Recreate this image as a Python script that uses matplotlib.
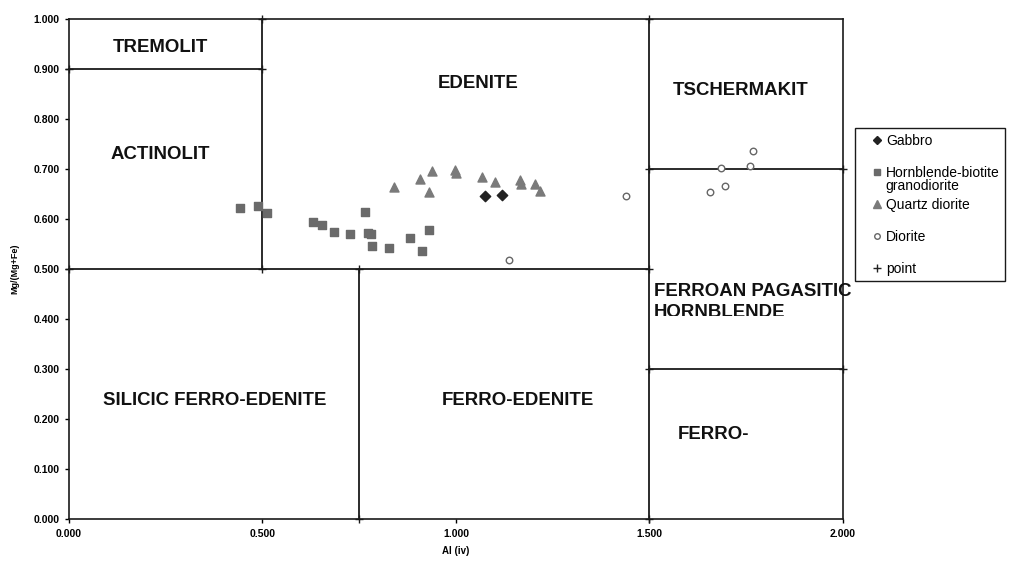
import numpy as np
import matplotlib.pyplot as plt
from matplotlib.lines import Line2D
from matplotlib.transforms import Bbox, TransformedBbox
from matplotlib.ticker import FormatStrFormatter

plt.rcParams['font.family'] = ['Liberation Sans', 'DejaVu Sans']

# sample data: Al(iv) vs Mg/(Mg+Fe)
gabbro_x = [1.076, 1.120]
gabbro_y = [0.645, 0.647]

hbl_x = [0.442, 0.488, 0.511, 0.630, 0.654, 0.686, 0.725, 0.766, 0.772, 0.780,
         0.782, 0.827, 0.881, 0.913, 0.931]
hbl_y = [0.622, 0.625, 0.611, 0.594, 0.587, 0.573, 0.569, 0.614, 0.572, 0.569,
         0.545, 0.542, 0.562, 0.535, 0.577]

qtz_x = [0.840, 0.907, 0.937, 0.930, 0.998, 1.000, 1.066, 1.102, 1.165, 1.168,
         1.205, 1.218]
qtz_y = [0.663, 0.679, 0.695, 0.653, 0.698, 0.691, 0.683, 0.673, 0.678, 0.669,
         0.669, 0.655]

dio_x = [1.137, 1.439, 1.768, 1.686, 1.761, 1.696, 1.657]
dio_y = [0.517, 0.645, 0.735, 0.701, 0.706, 0.666, 0.654]

# classification boundaries (x pairs, y pairs)
bounds = [
    ([0.0, 0.5], [0.9, 0.9]),
    ([0.5, 0.5], [0.5, 1.0]),
    ([0.0, 1.5], [0.5, 0.5]),
    ([0.75, 0.75], [0.0, 0.5]),
    ([1.5, 1.5], [0.0, 1.0]),
    ([1.5, 2.0], [0.7, 0.7]),
    ([1.5, 2.0], [0.3, 0.3]),
]

fields = [
    ('TREMOLIT', 0.235, 0.943),
    ('ACTINOLIT', 0.235, 0.728),
    ('EDENITE', 1.057, 0.870),
    ('TSCHERMAKIT', 1.735, 0.856),
    ('SILICIC FERRO-EDENITE', 0.377, 0.236),
    ('FERRO-EDENITE', 1.160, 0.236),
]

fig = plt.figure(figsize=(10.09, 5.74), dpi=100)
ax = fig.add_axes([0.0684, 0.0958, 0.767, 0.8712])

for bx, by in bounds:
    ax.plot(bx, by, color='#1a1a1a', lw=1.3, marker='+', ms=6, mew=1.0,
            clip_on=False, zorder=2)

ax.scatter(gabbro_x, gabbro_y, marker='D', s=28, color='#222222', zorder=3)
ax.scatter(hbl_x, hbl_y, marker='s', s=34, color='#6a6a6a', zorder=3)
ax.scatter(qtz_x, qtz_y, marker='^', s=42, color='#7a7a7a', zorder=3)
ax.scatter(dio_x, dio_y, marker='o', s=22, facecolor='white',
           edgecolor='#666666', lw=1.0, zorder=3)

for name, fx, fy in fields:
    ax.text(fx, fy, name, ha='center', va='center', fontsize=13.4,
            fontweight='bold', color='#111111')

ax.text(1.512, 0.454, 'FERROAN PAGASITIC', ha='left', va='center',
        fontsize=13.4, fontweight='bold', color='#111111')
hb = ax.text(1.512, 0.413, 'HORNBLENDE', ha='left', va='center',
             fontsize=13.4, fontweight='bold', color='#111111')
hb.set_clip_box(TransformedBbox(Bbox([[1.5, 0.406], [2.2, 0.6]]), ax.transData))
hb.set_clip_on(True)
ax.text(1.572, 0.168, 'FERRO-', ha='left', va='center', fontsize=13.4,
        fontweight='bold', color='#111111')

ax.set_xlim(0, 2.0)
ax.set_ylim(0, 1.0)
ax.set_xticks([0, 0.5, 1.0, 1.5, 2.0])
ax.set_yticks(np.arange(0, 1.01, 0.1))
ax.xaxis.set_major_formatter(FormatStrFormatter('%.3f'))
ax.yaxis.set_major_formatter(FormatStrFormatter('%.3f'))
ax.tick_params(direction='out', length=3, width=1, labelsize=7.5, pad=4)
for lab in ax.get_xticklabels() + ax.get_yticklabels():
    lab.set_fontweight('bold')
for sp in ax.spines.values():
    sp.set_linewidth(1.2)
    sp.set_color('#1a1a1a')

ax.set_xlabel('Al (iv)', fontsize=7, fontweight='bold', labelpad=5)
ax.set_ylabel('Mg/(Mg+Fe)', fontsize=6.5, fontweight='bold', labelpad=10)

handles = [
    Line2D([], [], ls='none', marker='D', ms=4, color='#222222'),
    Line2D([], [], ls='none', marker='s', ms=5, color='#6a6a6a'),
    Line2D([], [], ls='none', marker='^', ms=5.5, color='#7a7a7a'),
    Line2D([], [], ls='none', marker='o', ms=4, mfc='white', mec='#666666'),
    Line2D([], [], ls='none', marker='+', ms=6, color='#222222'),
]
labels = ['Gabbro', 'Hornblende-biotite', 'Quartz diorite', 'Diorite', 'point']
leg = fig.legend(handles, labels, loc='upper left',
                 bbox_to_anchor=(0.847, 0.777), fontsize=10,
                 frameon=True, fancybox=False, edgecolor='#1a1a1a',
                 framealpha=1, borderaxespad=0, labelspacing=1.3,
                 handlelength=2.4, handletextpad=-0.55, borderpad=0.4)
leg.get_frame().set_linewidth(1.0)

# second line of the hornblende entry sits under its first line, as in Excel
fig.canvas.draw()
tb = leg.get_texts()[1].get_window_extent()
fig.text(tb.x0 / fig.bbox.width, (tb.y0 + 1) / fig.bbox.height, 'granodiorite',
         ha='left', va='top', fontsize=10, zorder=10)

fig.savefig('out.png', dpi=100)
